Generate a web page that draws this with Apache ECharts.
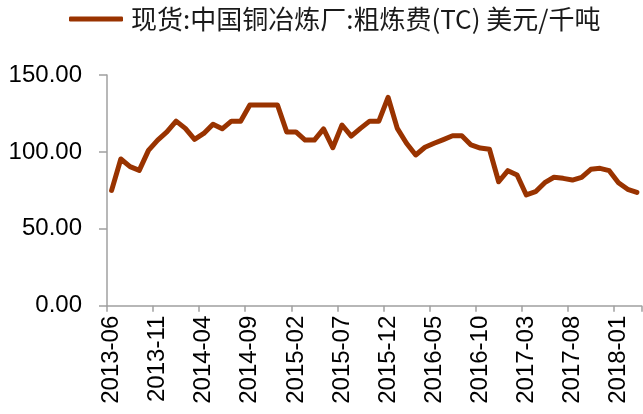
<!DOCTYPE html>
<html>
<head>
<meta charset="utf-8">
<script src="https://cdn.jsdelivr.net/npm/echarts@6/dist/echarts.min.js"></script>
<style>html,body{margin:0;padding:0;background:#fff;}#c{width:643px;height:414px;}</style>
</head>
<body>
<div id="c"></div>
<script>
var seriesName = '现货:中国铜冶炼厂:粗炼费(TC) 美元/千吨';
var categories = [
'2013-06','2013-07','2013-08','2013-09','2013-10','2013-11','2013-12',
'2014-01','2014-02','2014-03','2014-04','2014-05','2014-06','2014-07','2014-08','2014-09','2014-10','2014-11','2014-12',
'2015-01','2015-02','2015-03','2015-04','2015-05','2015-06','2015-07','2015-08','2015-09','2015-10','2015-11','2015-12',
'2016-01','2016-02','2016-03','2016-04','2016-05','2016-06','2016-07','2016-08','2016-09','2016-10','2016-11','2016-12',
'2017-01','2017-02','2017-03','2017-04','2017-05','2017-06','2017-07','2017-08','2017-09','2017-10','2017-11','2017-12',
'2018-01','2018-02','2018-03'];
var tcValues = [
75, 95.4, 90.4, 88, 101, 107.7, 113,
120, 115.3, 108.2, 112, 118, 115, 120, 120, 130.5, 130.5, 130.5, 130.5,
113, 113, 107.7, 107.7, 115, 102.7, 117.5, 110.3, 115.3, 120, 120, 135.5,
115.3, 105.6, 98, 103, 105.6, 108, 110.5, 110.5, 104.5, 102.5, 101.7, 80.6,
87.8, 85, 72, 74.1, 80, 83.5, 82.8, 81.7, 83.5, 88.7, 89.3, 87.8,
80, 75.7, 73.7];
var yMin = 0, yMax = 150, yStep = 50;

var chart = echarts.init(document.getElementById('c'), null, {renderer: 'canvas'});
var font = '"Liberation Sans", Arial, sans-serif';
chart.setOption({
  animation: false,
  backgroundColor: '#ffffff',
  legend: {
    show: true,
    left: 69,
    top: 6,
    padding: 0,
    icon: 'roundRect',
    itemWidth: 54,
    itemHeight: 5,
    textStyle: {fontFamily: '"Noto Sans CJK SC", ' + font, fontSize: 26, color: '#1a1a1a', padding: [0, 0, 0, 3]},
    data: [seriesName]
  },
  grid: {left: 107, right: 1.5, top: 75, bottom: 108.3, containLabel: false},
  xAxis: {
    type: 'category',
    data: categories,
    boundaryGap: true,
    axisLine: {lineStyle: {color: '#a0a0a0', width: 1.5}},
    axisTick: {show: true, interval: 4, length: 6, lineStyle: {color: '#a0a0a0', width: 1.5}},
    axisLabel: {interval: 4, rotate: 90, margin: 10, fontFamily: font, fontSize: 24, color: '#000'},
    splitLine: {show: false}
  },
  yAxis: {
    type: 'value',
    min: yMin, max: yMax, interval: yStep,
    axisLine: {show: true, lineStyle: {color: '#a0a0a0', width: 1.5}},
    axisTick: {show: true, length: 8, lineStyle: {color: '#a0a0a0', width: 1.5}},
    axisLabel: {margin: 25, fontFamily: font, fontSize: 24, color: '#000',
      formatter: function (v) { return v.toFixed(2); }},
    splitLine: {show: false}
  },
  series: [{
    name: seriesName,
    type: 'line',
    data: tcValues,
    showSymbol: false,
    symbol: 'none',
    lineStyle: {color: '#993300', width: 5, cap: 'round', join: 'round'},
    itemStyle: {color: '#993300'}
  }]
});
</script>
</body>
</html>
